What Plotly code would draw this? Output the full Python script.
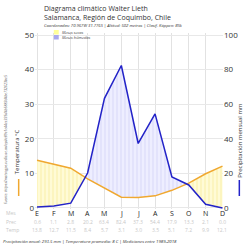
import plotly.graph_objects as go

months = ["E", "F", "M", "A", "M", "J", "J", "A", "S", "O", "N", "D"]
temp = [13.8, 12.7, 11.5, 8.4, 5.7, 3.1, 3.0, 3.5, 5.1, 7.2, 9.9, 12.1]
prec = [0.6, 1.1, 2.8, 20.2, 63.4, 82.4, 37.3, 54.4, 17.9, 13.3, 2.1, 0.0]
temp_ticks = [0, 10, 20, 30, 40, 50]
prec_ticks = [0, 20, 40, 60, 80, 100]

title1 = "Diagrama climático Walter Lieth"
title2 = "Salamanca, Región de Coquimbo, Chile"
title3 = "Coordenadas: 70.967W 31.776S | Altitud: 502 metros | Clasif. Köppen: BSk"
footer = "Precipitación anual: 293.5 mm | Temperatura promedio: 8 C | Mediciones entre 1989-2018"
source = "Fuente: https://meteogpe.rudie.ac.ar/api/e89e1c44ec335d4b5883d4bc732623be5"

L, R, T, B = 35, 25, 33, 41
W = H = 250
PW, PH = W - L - R, H - T - B


def px(x):
    return (x - L) / PW


def py(y):
    return (H - B - y) / PH


# densify with crossing points between temp and prec/2
xs, t_d, p_d = [], [], []
for i in range(12):
    xs.append(i); t_d.append(temp[i]); p_d.append(prec[i] / 2)
    if i < 11:
        d0 = prec[i] / 2 - temp[i]
        d1 = prec[i + 1] / 2 - temp[i + 1]
        if d0 * d1 < 0:
            f = d0 / (d0 - d1)
            xs.append(i + f)
            t_d.append(temp[i] + f * (temp[i + 1] - temp[i]))
            p_d.append(prec[i] / 2 + f * (prec[i + 1] / 2 - prec[i] / 2))

lo = [min(a, b) for a, b in zip(t_d, p_d)]
hi = [max(a, b) for a, b in zip(t_d, p_d)]

fig = go.Figure()
# dry area
fig.add_trace(go.Scatter(
    x=xs + xs[::-1], y=t_d + lo[::-1], fill="toself", mode="none",
    fillcolor="rgba(255,255,200,0.9)",
    fillpattern=dict(shape="|", size=4, solidity=0.25, fgcolor="#f3e27a", bgcolor="#fffbd6"),
    hoverinfo="skip", showlegend=False))
# humid area
fig.add_trace(go.Scatter(
    x=xs + xs[::-1], y=hi + t_d[::-1], fill="toself", mode="none",
    fillcolor="rgba(230,230,255,0.9)",
    fillpattern=dict(shape="|", size=4, solidity=0.2, fgcolor="#b8b8ee", bgcolor="#eeeeff"),
    hoverinfo="skip", showlegend=False))
fig.add_trace(go.Scatter(x=list(range(12)), y=temp, mode="lines",
                         line=dict(color="#f0a830", width=1.5), showlegend=False))
fig.add_trace(go.Scatter(x=list(range(12)), y=prec, mode="lines", yaxis="y2",
                         line=dict(color="#2323c8", width=1.5), showlegend=False))

fig.update_layout(
    width=W, height=H, margin=dict(l=L, r=R, t=T, b=B),
    paper_bgcolor="white", plot_bgcolor="white",
    font=dict(family="Open Sans", color="#333"),
    showlegend=False,
    xaxis=dict(range=[-0.12, 11.03], tickvals=list(range(12)), ticktext=months,
               showticklabels=False,
               showgrid=True, gridcolor="#e2e2e2", gridwidth=1, zeroline=False, ticklen=0),
    yaxis=dict(range=[-0.3, 50.6], tickvals=temp_ticks, showgrid=True,
               gridcolor="#e8e8e8", zeroline=False, tickfont=dict(size=8, color="#333")),
    yaxis2=dict(range=[-0.6, 101.2], tickvals=prec_ticks, overlaying="y", side="right",
                showgrid=False, zeroline=False, tickfont=dict(size=8, color="#333")),
)

ann = []
ann.append(dict(text=title1, x=px(43), y=py(8.5), font=dict(size=7, color="#333")))
ann.append(dict(text=title2, x=px(43), y=py(17.5), font=dict(size=7, color="#333")))
ann.append(dict(text="<i>" + title3 + "</i>", x=px(43), y=py(25), font=dict(size=4.2, color="#333")))
ann.append(dict(text="<i>Meses secos</i>", x=px(61), y=py(32), font=dict(size=4, color="#444")))
ann.append(dict(text="<i>Meses húmedos</i>", x=px(61), y=py(37), font=dict(size=4, color="#444")))
ann.append(dict(text="<i>" + footer + "</i>", x=px(2), y=py(241), font=dict(size=4.3, color="#333")))
for a in ann:
    a.update(xref="paper", yref="paper", xanchor="left", yanchor="middle",
             showarrow=False, borderpad=0)

ann.append(dict(text="<i>" + source + "</i>", x=px(5), y=py(140), xref="paper", yref="paper",
                xanchor="center", yanchor="middle",
                textangle=-90, showarrow=False, font=dict(size=3.6, color="#555")))
ann.append(dict(text="Temperatura °C", x=px(17), y=py(152), xref="paper", yref="paper",
                xanchor="center", yanchor="middle",
                textangle=-90, showarrow=False, font=dict(size=6, color="#333")))
ann.append(dict(text="Precipitación mensual mm", x=px(242), y=py(140), xref="paper", yref="paper",
                xanchor="center", yanchor="middle",
                textangle=-90, showarrow=False, font=dict(size=6, color="#333")))

# month labels row
for i, m in enumerate(months):
    ann.append(dict(text=m, x=i, y=py(213), xref="x", yref="paper", showarrow=False,
                    xanchor="center", yanchor="middle", borderpad=0,
                    font=dict(size=7, color="#222")))

rows = [("Mes", 213, None), ("Prec", 221.5, prec), ("Temp", 229.5, temp)]
for label, ypix, vals in rows:
    ann.append(dict(text=label, x=px(5), y=py(ypix), xref="paper", yref="paper",
                    xanchor="left", yanchor="middle", showarrow=False, borderpad=0,
                    font=dict(size=5, color="#c8c8c8")))
    if vals is not None:
        for i, v in enumerate(vals):
            ann.append(dict(text=f"{v:.1f}", x=i, y=py(ypix), xref="x", yref="paper",
                            xanchor="center", yanchor="middle",
                            showarrow=False, borderpad=0,
                            font=dict(size=5, color="#c8c8c8")))
fig.update_layout(annotations=ann)

shapes = [
    dict(type="rect", xref="paper", yref="paper", x0=px(54), x1=px(59), y0=py(30), y1=py(34.5),
         fillcolor="#ffff99", line=dict(width=0)),
    dict(type="rect", xref="paper", yref="paper", x0=px(54), x1=px(59), y0=py(35), y1=py(39.5),
         fillcolor="#a9a9ee", line=dict(width=0)),
    dict(type="line", xref="paper", yref="paper", x0=px(18.5), x1=px(18.5), y0=py(179), y1=py(196),
         line=dict(color="#f0a830", width=1.5)),
    dict(type="line", xref="paper", yref="paper", x0=px(241.5), x1=px(241.5), y0=py(180), y1=py(196),
         line=dict(color="#2323c8", width=1.5)),
]
fig.update_layout(shapes=shapes)

fig.write_html("out.html")
